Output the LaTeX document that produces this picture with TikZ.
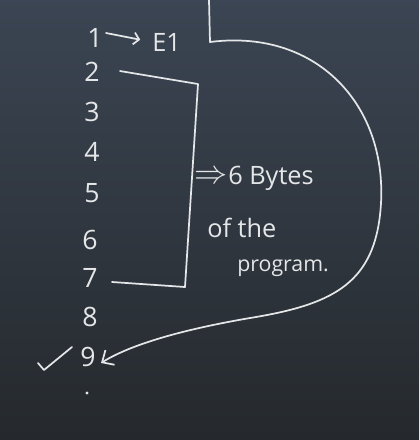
\documentclass[tikz,border=0pt]{standalone}
\usepackage{fontspec}
\setmainfont{Open Sans}
\usetikzlibrary{arrows.meta}
\definecolor{chalk}{HTML}{E4E6E8}
\definecolor{boardA}{HTML}{3B4553}
\definecolor{boardB}{HTML}{25292D}
\begin{document}
\begin{tikzpicture}[x=0.75pt,y=-0.75pt,
  chalkline/.style={draw=chalk, line width=1.3pt, line cap=round, line join=round},
  num/.style={text=chalk, font=\fontsize{20}{20}\selectfont, inner sep=0pt},
  txt/.style={text=chalk, font=\fontsize{19}{19}\selectfont, inner sep=0pt, anchor=west},
  barb/.style={-{Straight Barb[length=7pt,width=13pt,line width=1.3pt]}}]
\fill[top color=boardA, bottom color=boardB] (0,0) rectangle (419,440);
\useasboundingbox (0,0) rectangle (419,440);
% numbers
\node[num] (n1) at (95,38) {1};
\node[num] (n2) at (92,72) {2};
\node[num] (n3) at (92,112) {3};
\node[num] (n4) at (92,152) {4};
\node[num] (n5) at (92,193) {5};
\node[num] (n6) at (90,240) {6};
\node[num] (n7) at (90,278) {7};
\node[num] (n8) at (90,317) {8};
\node[num] (n9) at (88,357) {9};
\node[circle, fill=chalk, inner sep=0pt, minimum size=2.5pt] (dot) at (87,393) {};
% E1
\node[txt] (e1) at (152,42) {E1};
\coordinate (a1) at (106,33);
\draw[chalkline, shorten >=9pt, -{Straight Barb[length=4pt,width=9pt,line width=1.3pt]}] (a1) -- (e1.west);
% bracket
\coordinate (b1) at (120,71);
\coordinate (b2) at (198,84);
\coordinate (b3) at (185,287);
\coordinate (b4) at (112,282);
\draw[chalkline] (b1) -- (b2) -- (b3) -- (b4);
% texts
\node[txt, font=\fontsize{25}{25}\selectfont] (imp) at (194,177) {$\Rightarrow$};
\node[txt] (bytes) at (228,178) {6 Bytes};
\node[txt] (ofthe) at (207,228) {of the};
\node[txt, font=\fontsize{16}{16}\selectfont] (prog) at (237,268) {program.};
% big curve
\coordinate (top) at (209,0);
\coordinate (c1) at (210,42);
\coordinate (tip) at (101,363);
\draw[chalkline, barb] (top) -- (c1)
  .. controls (320,28) and (392,110) .. (380,215)
  .. controls (372,285) and (330,305) .. (250,318)
  .. controls (180,330) and (130,345) .. (tip);
% check mark
\coordinate (k1) at (38,363);
\coordinate (k2) at (44,370);
\coordinate (k3) at (72,347);
\draw[chalkline] (k1) -- (k2) -- (k3);
\end{tikzpicture}
\end{document}
